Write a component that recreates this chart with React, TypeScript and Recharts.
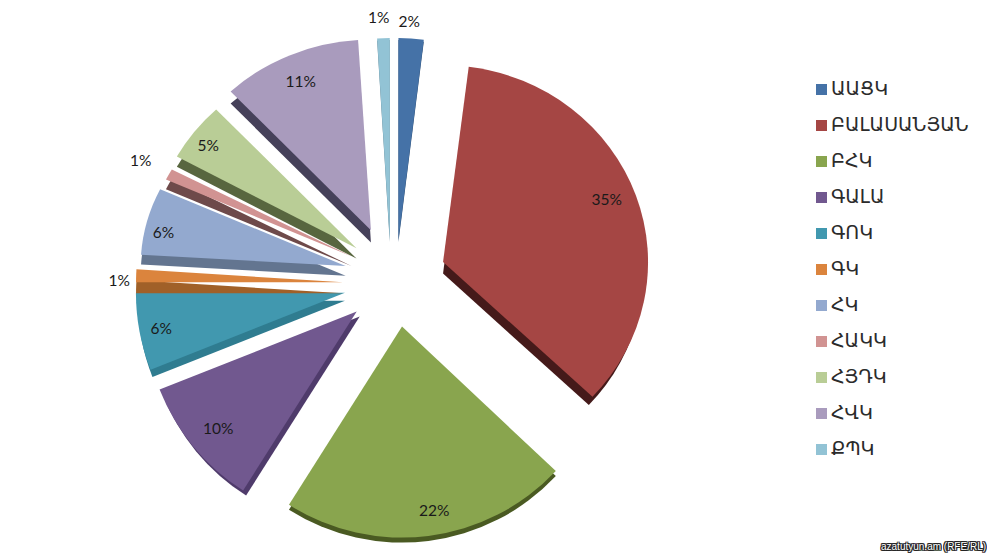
import { PieChart, Pie, Cell, Sector, Legend } from "recharts";

const parties = ["ԱԱՑԿ", "ԲԱԼԱՍԱՆՅԱՆ", "ԲՀԿ", "ԳԱԼԱ", "ԳՈԿ", "ԳԿ", "ՀԿ", "ՀԱԿԿ", "ՀՅԴԿ", "ՀՎԿ", "ՔՊԿ"];
const shares = [2, 35, 22, 10, 6, 1, 6, 1, 5, 11, 1];
const colors = ["#4572a7", "#a54644", "#89a54e", "#71588f", "#4198af", "#db843d", "#93a9cf", "#d19392", "#b9cd96", "#a99bbd", "#92c3d5"];
const sides = ["#2c4a6e", "#451a1a", "#4a5a22", "#4f3b6b", "#2f7c90", "#a06028", "#637590", "#6e4a4a", "#58663f", "#46415a", "#5d8291"];

// per-slice look of the fake 3D pie: pull-out, edge thickness, perspective
const explode = [39, 50, 48, 51, 52, 53, 52, 50, 50, 53, 39];
const depth = [2, 12, 5, 5, 8, 11, 11, 11, 11, 13, 2];
const sideShift = [0, 0, 0, 3, 0, 0, 0, 0, 0, 0, 0];
const sideShrink = [0, 5, 0, 0, 2, 0, 0, 0, 0, 0, 0];
const radii = [202, 205, 211, 212, 209, 207, 205, 205, 205, 205, 202];
const squash = [1, 0.96, 1, 1, 1, 1, 0.88, 0.88, 0.93, 0.93, 1];
const nudge = [[0, 0], [0, 0], [0, 0], [0, 0], [0, 4], [0, 5], [0, 0], [0, 0], [0, 0], [-4, 0], [-5, 0]];

const labelRadius = [258, 225, 234, 232, 241, 277, 238, 281, 230, 220, 261];
const labelNudge = [[-3, -1], [-1, -4], [9, -1], [1, 1], [2, 4], [0, 10], [-2, 12], [-5, 9], [-6, 7], [-8, 4], [-9, -1]];

const rows = parties.map((name, i) => ({ name, value: shares[i] }));
const RAD = Math.PI / 180;

function TiltedSlice(props: any) {
  const { cx, cy, innerRadius, startAngle, endAngle, midAngle, fill, name } = props;
  const i = parties.indexOf(name);
  const tipX = cx + Math.cos(midAngle * RAD) * explode[i] + nudge[i][0];
  const tipY = cy - Math.sin(midAngle * RAD) * explode[i] + nudge[i][1];
  const base = { innerRadius, startAngle, endAngle };
  return (
    <g transform={`translate(0 ${tipY}) scale(1 ${squash[i]}) translate(0 ${-tipY})`}>
      <Sector {...base} cx={tipX + sideShift[i]} cy={tipY + depth[i]} outerRadius={radii[i] - sideShrink[i]} fill={sides[i]} />
      <Sector {...base} cx={tipX} cy={tipY} outerRadius={radii[i]} fill={fill} />
    </g>
  );
}

function PctLabel(props: any) {
  const { cx, cy, midAngle, name, value } = props;
  const i = parties.indexOf(name);
  const x = cx + Math.cos(midAngle * RAD) * labelRadius[i] + labelNudge[i][0];
  const y = cy - Math.sin(midAngle * RAD) * labelRadius[i] + labelNudge[i][1];
  return (
    <text x={x} y={y} textAnchor="middle" dominantBaseline="central" fontSize={15.5} fontFamily="Lato, 'Open Sans', sans-serif" fill="#1a1a1a">
      {value}%
    </text>
  );
}

export default function App() {
  return (
    <div style={{ position: "absolute", left: 0, top: 0, width: 987, height: 555, background: "#fff", fontFamily: "'Open Sans', 'DejaVu Sans', sans-serif" }}>
      <PieChart width={987} height={555} margin={{ top: 0, right: 0, bottom: 0, left: 0 }}>
        <Pie
          data={rows}
          dataKey="value"
          nameKey="name"
          cx={396}
          cy={279}
          outerRadius={205}
          startAngle={90}
          endAngle={-270}
          stroke="none"
          shape={TiltedSlice}
          label={PctLabel}
          labelLine={false}
          isAnimationActive={false}
        >
          {rows.map((r, i) => (
            <Cell key={r.name} fill={colors[i]} />
          ))}
        </Pie>
        <Legend
          layout="vertical"
          align="right"
          verticalAlign="top"
          iconType="square"
          iconSize={11}
          itemSorter={null}
          wrapperStyle={{ left: 816, top: 70, width: 171, fontSize: 19, lineHeight: "36px" }}
          formatter={(v: string) => <span style={{ color: "#2b2b2b" }}>{v}</span>}
        />
      </PieChart>
      <div
        style={{
          position: "absolute",
          left: 881,
          top: 541,
          color: "#fff",
          fontSize: 10,
          fontFamily: "'Liberation Sans', sans-serif",
          whiteSpace: "nowrap",
          textShadow: "1px 0 0 #222, -1px 0 0 #222, 0 1px 0 #222, 0 -1px 0 #222, 1px 1px 0 #222, -1px -1px 0 #222, 1px -1px 0 #222, -1px 1px 0 #222",
        }}
      >
        azatutyun.am (RFE/RL)
      </div>
    </div>
  );
}
